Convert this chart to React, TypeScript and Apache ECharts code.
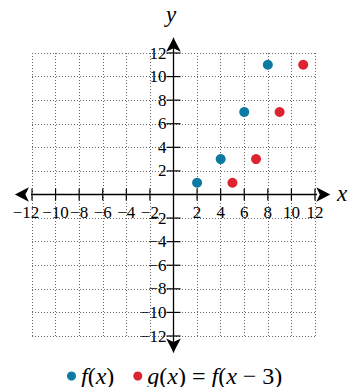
import React, { useEffect, useRef } from "react";
import * as echarts from "echarts";

const fX = [2, 4, 6, 8];
const fY = [1, 3, 7, 11];
const gX = [5, 7, 9, 11];
const gY = [1, 3, 7, 11];
const AXIS_MIN = -12;
const AXIS_MAX = 12;
const TICK_STEP = 2;
const tickValues = [-12, -10, -8, -6, -4, -2, 2, 4, 6, 8, 10, 12];
const xArrowEnds = [-13.45, 13.3];
const yArrowEnds = [-13.4, 13.3];
const seriesNames = ["f(x)", "g(x) = f(x − 3)"];

const SERIF = "'Liberation Serif', 'DejaVu Serif', serif";
const BLUE = "#0c7aa2";
const RED = "#dc2530";

function fmt(v: number): string {
  return v < 0 ? "−" + Math.abs(v) : String(v);
}

export default function App() {
  const ref = useRef<HTMLDivElement>(null);
  useEffect(() => {
    if (!ref.current) return;
    const chart = echarts.init(ref.current, undefined, { renderer: "svg" });
    const labelFont = {
      color: "#000",
      fontFamily: SERIF,
      fontSize: 17,
    };
    const splitLine = {
      show: true,
      lineStyle: { color: "#666", width: 1, type: [1, 2] as any },
    };
    const baseAxis = {
      type: "value" as const,
      min: AXIS_MIN,
      max: AXIS_MAX,
      interval: TICK_STEP,
      axisLine: { show: false },
      axisTick: { show: false },
      axisLabel: { show: false },
      splitLine,
    };
    const legendRich = {
      i: { fontFamily: SERIF, fontSize: 24, lineHeight: 24, fontStyle: "italic", color: "#000" },
      r: { fontFamily: SERIF, fontSize: 24, lineHeight: 24, color: "#000" },
    };
    const arrowLine = {
      type: "line",
      silent: true,
      clip: false,
      symbol: "arrow",
      symbolSize: [11, 14],
      showSymbol: true,
      lineStyle: { color: "#000", width: 1.3 },
      itemStyle: { color: "#000" },
      z: 3,
    };
    chart.setOption({
      animation: false,
      grid: { left: 32, top: 53, width: 283, height: 283 },
      xAxis: baseAxis,
      yAxis: baseAxis,
      legend: {
        left: 62,
        top: 359,
        icon: "circle",
        itemWidth: 9,
        itemHeight: 9,
        itemGap: 19,
        data: seriesNames,
        formatter: (name: string) =>
          name === seriesNames[0]
            ? "{i|f}{r|(}{i|x}{r|)}"
            : "{i|g}{r|(}{i|x}{r|) = }{i|f}{r|(}{i|x}{r| − 3)}",
        textStyle: {
          fontFamily: SERIF,
          fontSize: 24,
          lineHeight: 24,
          color: "#000",
          rich: legendRich,
        },
      },
      graphic: [
        {
          type: "text",
          left: 166,
          top: 3,
          style: { text: "y", font: `italic 23px ${SERIF}`, fill: "#000" },
        },
        {
          type: "text",
          left: 337,
          top: 182,
          style: { text: "x", font: `italic 23px ${SERIF}`, fill: "#000" },
        },
      ],
      series: [
        {
          ...arrowLine,
          data: [
            { value: [xArrowEnds[0], 0], symbolRotate: 90 },
            { value: [xArrowEnds[1], 0], symbolRotate: -90 },
          ],
        },
        {
          ...arrowLine,
          data: [
            { value: [0, yArrowEnds[0]], symbolRotate: 180 },
            { value: [0, yArrowEnds[1]], symbolRotate: 0 },
          ],
        },
        {
          type: "scatter",
          silent: true,
          symbol: "rect",
          symbolSize: [1.2, 12],
          itemStyle: { color: "#000", opacity: 1 },
          label: {
            show: true,
            position: "bottom",
            distance: 3,
            ...labelFont,
            formatter: (p: any) => fmt(p.value[0]),
          },
          labelLayout: (p: any) => (p.dataIndex === 0 ? { dx: -6 } : {}),
          data: tickValues.map((v) => [v, 0]),
          z: 3,
        },
        {
          type: "scatter",
          silent: true,
          symbol: "rect",
          symbolSize: [14, 1.2],
          itemStyle: { color: "#000", opacity: 1 },
          label: {
            show: true,
            position: "left",
            distance: 0,
            ...labelFont,
            formatter: (p: any) => fmt(p.value[1]),
          },
          data: tickValues.map((v) => [0, v]),
          z: 3,
        },
        {
          name: seriesNames[0],
          type: "scatter",
          symbolSize: 10,
          itemStyle: { color: BLUE, opacity: 1 },
          data: fX.map((x, i) => [x, fY[i]]),
          z: 5,
        },
        {
          name: seriesNames[1],
          type: "scatter",
          symbolSize: 10,
          itemStyle: { color: RED, opacity: 1 },
          data: gX.map((x, i) => [x, gY[i]]),
          z: 5,
        },
      ],
    });
    return () => chart.dispose();
  }, []);
  return (
    <div
      ref={ref}
      style={{ position: "fixed", left: 0, top: 0, width: 348, height: 387, background: "#fff" }}
    />
  );
}
